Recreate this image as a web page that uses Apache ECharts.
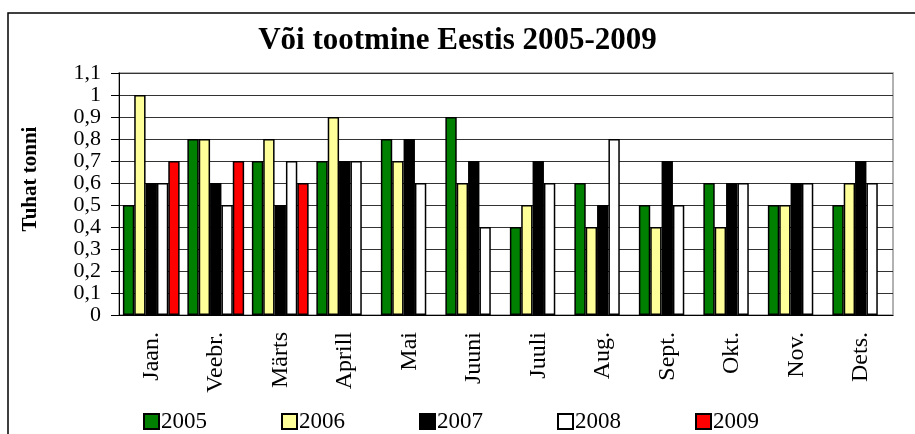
<!DOCTYPE html>
<html>
<head>
<meta charset="utf-8">
<script src="https://cdn.jsdelivr.net/npm/echarts@6/dist/echarts.min.js"></script>
<style>
  html, body { margin: 0; padding: 0; background: #fff; }
  #chart { width: 915px; height: 434px; }
</style>
</head>
<body>
<div id="chart"></div>
<script>
// kuud
var months = ['Jaan.', 'Veebr.', 'Märts', 'Aprill', 'Mai', 'Juuni', 'Juuli', 'Aug.', 'Sept.', 'Okt.', 'Nov.', 'Dets.'];
// tuhat tonni, aastate kaupa
var y2005 = [0.5, 0.8, 0.7, 0.7, 0.8, 0.9, 0.4, 0.6, 0.5, 0.6, 0.5, 0.5];
var y2006 = [1.0, 0.8, 0.8, 0.9, 0.7, 0.6, 0.5, 0.4, 0.4, 0.4, 0.5, 0.6];
var y2007 = [0.6, 0.6, 0.5, 0.7, 0.8, 0.7, 0.7, 0.5, 0.7, 0.6, 0.6, 0.7];
var y2008 = [0.6, 0.5, 0.7, 0.7, 0.6, 0.4, 0.6, 0.8, 0.5, 0.6, 0.6, 0.6];
var y2009 = [0.7, 0.7, 0.6, null, null, null, null, null, null, null, null, null];

var font = '"Liberation Serif", "Times New Roman", serif';

function bar(name, data, color) {
  return {
    name: name,
    type: 'bar',
    data: data,
    barGap: '0%',
    barCategoryGap: '12%',
    itemStyle: { color: color, borderColor: '#000', borderWidth: 1.5 }
  };
}

var chart = echarts.init(document.getElementById('chart'), null, { renderer: 'canvas' });
chart.setOption({
  animation: false,
  backgroundColor: '#fff',
  textStyle: { fontFamily: font, color: '#000' },
  graphic: [{
    type: 'rect',
    shape: { x: 8, y: 13, width: 930, height: 440 },
    style: { fill: 'none', stroke: '#000', lineWidth: 1.5 },
    silent: true
  }, {
    // telje nimi, veidi keskelt ülespoole nagu originaalis
    type: 'text',
    x: 31,
    y: 179,
    rotation: Math.PI / 2,
    style: {
      text: 'Tuhat tonni',
      font: 'bold 21px ' + font,
      fill: '#000',
      align: 'center',
      verticalAlign: 'middle'
    },
    silent: true
  }],
  title: {
    text: 'Või tootmine Eestis 2005-2009',
    left: 'center',
    top: 25,
    padding: 0,
    textStyle: { fontFamily: font, fontSize: 31, fontWeight: 'bold', color: '#000' }
  },
  legend: {
    left: 143,
    top: 410,
    padding: 0,
    icon: 'rect',
    itemWidth: 15,
    itemHeight: 15,
    itemGap: 74,
    textStyle: { fontFamily: font, fontSize: 23, color: '#000', padding: [0, 0, 0, -3] },
    data: ['2005', '2006', '2007', '2008', '2009']
  },
  grid: { left: 119, right: 22, top: 73, bottom: 119, show: true, borderColor: '#999', borderWidth: 1.5 },
  xAxis: {
    type: 'category',
    data: months,
    axisLine: { lineStyle: { color: '#000', width: 1 } },
    axisTick: { length: 8, lineStyle: { color: '#000' } },
    axisLabel: { rotate: 90, fontFamily: font, fontSize: 24, color: '#000', margin: 17 }
  },
  yAxis: {
    type: 'value',
    min: 0,
    max: 1.1,
    interval: 0.1,
    axisLine: { show: true, lineStyle: { color: '#000' } },
    axisTick: { show: true, length: 8, lineStyle: { color: '#000' } },
    splitLine: { lineStyle: { color: '#333', width: 1 } },
    axisLabel: {
      fontFamily: font, fontSize: 22, color: '#000', margin: 18,
      formatter: function (v) { return String(Math.round(v * 10) / 10).replace('.', ','); }
    }
  },
  series: [
    bar('2005', y2005, '#008000'),
    bar('2006', y2006, '#ffff99'),
    bar('2007', y2007, '#000000'),
    bar('2008', y2008, '#ffffff'),
    bar('2009', y2009, '#ff0000')
  ]
});
</script>
</body>
</html>
